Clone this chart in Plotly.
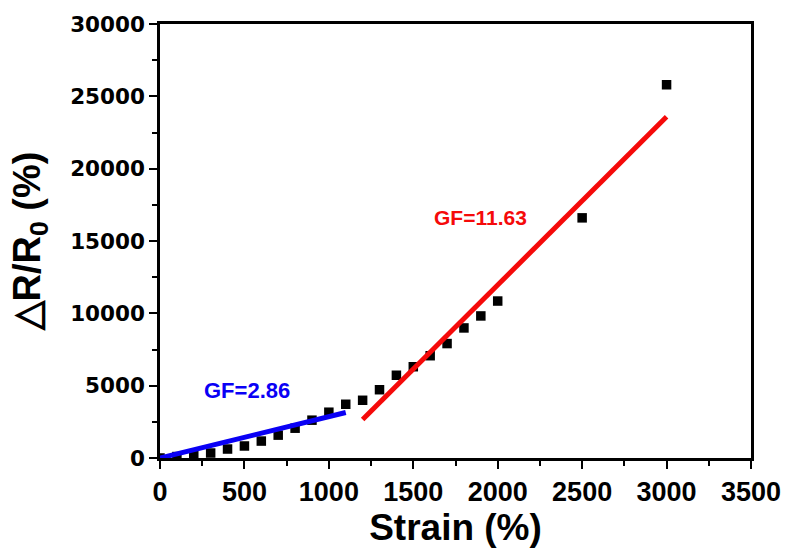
import plotly.graph_objects as go

# Data
strain = [0, 100, 200, 300, 400, 500, 600, 700, 800, 900, 1000, 1100, 1200,
          1300, 1400, 1500, 1600, 1700, 1800, 1900, 2000, 2500, 3000]
resp = [0, 100, 220, 344, 620, 830, 1170, 1580, 2060, 2615, 3165, 3715, 3990,
        4720, 5720, 6310, 7070, 7910, 8990, 9820, 10850, 16600, 25800]

fit1_x = [0, 1100]
fit1_slope = 2.86
fit2_x = [1200, 3000]
fit2_slope = 11.63
fit2_intercept = -11300

fit1_y = [fit1_slope * x for x in fit1_x]
fit2_y = [fit2_slope * x + fit2_intercept for x in fit2_x]

fig = go.Figure()
fig.add_trace(go.Scatter(x=strain, y=resp, mode="markers",
                         marker=dict(symbol="square", size=9.5, color="black"),
                         showlegend=False))
fig.add_trace(go.Scatter(x=fit1_x, y=fit1_y, mode="lines",
                         line=dict(color="#0A00F5", width=5), showlegend=False))
fig.add_trace(go.Scatter(x=fit2_x, y=fit2_y, mode="lines",
                         line=dict(color="#F50A0A", width=5), showlegend=False))

fig.add_annotation(x=518, y=4680, text="<b>GF=2.86</b>", showarrow=False,
                   font=dict(family="Liberation Sans, Arial", size=22, color="#0A00F5"))
fig.add_annotation(x=1897, y=16650, text="<b>GF=11.63</b>", showarrow=False,
                   font=dict(family="Liberation Sans, Arial", size=21, color="#F50A0A"))

axis_common = dict(showgrid=False, zeroline=False, showline=True, linecolor="black",
                   linewidth=2.5, mirror=True, ticks="outside", ticklen=8,
                   tickwidth=2, tickcolor="black")

fig.update_xaxes(range=[0, 3500], dtick=500, tick0=0, tickformat="d", **axis_common,
                 minor=dict(ticks="outside", ticklen=5, tickwidth=2, dtick=250,
                            tickcolor="black"),
                 tickfont=dict(family="Liberation Sans, Arial", size=27, color="black",
                               weight="bold"),
                 title=dict(text="<b>Strain (%)</b>", standoff=6,
                            font=dict(family="Liberation Sans, Arial", size=37, color="black")))
fig.update_yaxes(range=[0, 30000], dtick=5000, tick0=0, tickformat="d", **axis_common,
                 minor=dict(ticks="outside", ticklen=5, tickwidth=2, dtick=2500,
                            tickcolor="black"),
                 tickfont=dict(family="DejaVu Sans", size=21.5, color="black",
                               weight="bold"),
                 title=dict(text="<b>△R/R<sub>0</sub> (%)</b>", standoff=18,
                            font=dict(family="Liberation Sans, Arial", size=38, color="black")))

fig.update_layout(width=793, height=553, plot_bgcolor="white", paper_bgcolor="white",
                  margin=dict(l=160, r=38, t=23, b=95))

fig.write_html("out.html")
